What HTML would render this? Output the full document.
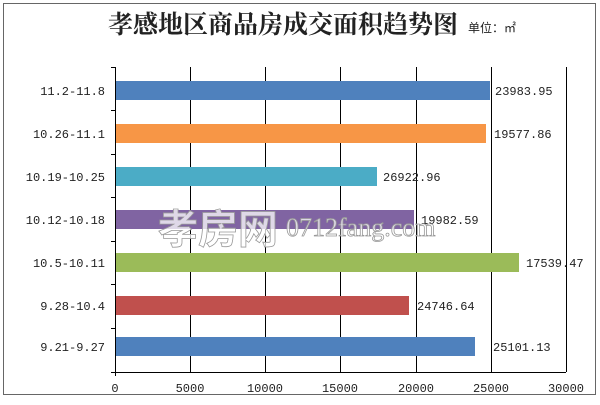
<!DOCTYPE html>
<html><head><meta charset="utf-8"><style>
body{margin:0;background:#fff;width:600px;height:400px;overflow:hidden}
svg text{font-family:"Liberation Mono","Noto Sans CJK SC",monospace}
</style></head><body>
<svg width="600" height="400" xmlns="http://www.w3.org/2000/svg">
<rect x="0" y="0" width="600" height="400" fill="#fff"/>
<rect x="3.5" y="3.5" width="592" height="391" fill="#fff" stroke="#666" stroke-width="1"/>
<text x="283" y="33" font-size="25" font-weight="bold" text-anchor="middle" style="font-family:'Noto Serif CJK SC',serif" fill="#222">孝感地区商品房成交面积趋势图</text>
<text x="468" y="32" font-size="12" fill="#222" style="font-family:'Noto Sans CJK SC',sans-serif">单位：㎡</text>
<g stroke="#000" stroke-width="1">
<line x1="190.5" y1="67" x2="190.5" y2="372"/>
<line x1="265.5" y1="67" x2="265.5" y2="372"/>
<line x1="340.5" y1="67" x2="340.5" y2="372"/>
<line x1="416.5" y1="67" x2="416.5" y2="372"/>
<line x1="491.5" y1="67" x2="491.5" y2="372"/>
<line x1="566.5" y1="67" x2="566.5" y2="372"/>
<line x1="115.5" y1="67" x2="115.5" y2="376"/>
<line x1="111" y1="372.5" x2="566" y2="372.5"/>
<line x1="111" y1="67.5" x2="115" y2="67.5"/>
<line x1="111" y1="110.5" x2="115" y2="110.5"/>
<line x1="111" y1="154.5" x2="115" y2="154.5"/>
<line x1="111" y1="197.5" x2="115" y2="197.5"/>
<line x1="111" y1="241.5" x2="115" y2="241.5"/>
<line x1="111" y1="284.5" x2="115" y2="284.5"/>
<line x1="111" y1="328.5" x2="115" y2="328.5"/>
</g>
<rect x="116" y="81" width="374" height="19" fill="#4f81bd"/>
<rect x="116" y="124" width="370" height="19" fill="#f79646"/>
<rect x="116" y="167" width="261" height="19" fill="#4bacc6"/>
<rect x="116" y="210" width="298" height="19" fill="#8064a2"/>
<rect x="116" y="253" width="403" height="19" fill="#9bbb59"/>
<rect x="116" y="296" width="293" height="19" fill="#c0504d"/>
<rect x="116" y="337" width="359" height="19" fill="#4f81bd"/>
<g font-size="12" fill="#222">
<text x="105" y="95" text-anchor="end">11.2-11.8</text>
<text x="105" y="138" text-anchor="end">10.26-11.1</text>
<text x="105" y="181" text-anchor="end">10.19-10.25</text>
<text x="105" y="224" text-anchor="end">10.12-10.18</text>
<text x="105" y="267" text-anchor="end">10.5-10.11</text>
<text x="105" y="310" text-anchor="end">9.28-10.4</text>
<text x="105" y="351" text-anchor="end">9.21-9.27</text>
<text x="495" y="95">23983.95</text>
<text x="494" y="138">19577.86</text>
<text x="383" y="181">26922.96</text>
<text x="421" y="224">19982.59</text>
<text x="526" y="267">17539.47</text>
<text x="417" y="310">24746.64</text>
<text x="493" y="351">25101.13</text>
<g text-anchor="middle">
<text x="115" y="392">0</text>
<text x="190" y="392">5000</text>
<text x="265" y="392">10000</text>
<text x="340" y="392">15000</text>
<text x="416" y="392">20000</text>
<text x="491" y="392">25000</text>
<text x="566" y="392">30000</text>
</g>
</g>
<g fill="#fff" fill-opacity="0.75" stroke="#999" stroke-width="0.8">
<text x="158" y="243" font-size="40" font-weight="bold" style="font-family:'Noto Sans CJK SC',sans-serif">孝房网</text>
<text x="286" y="236" font-size="26" style="font-family:'Liberation Serif',serif">0712fang.com</text>
</g>
</svg>
</body></html>
